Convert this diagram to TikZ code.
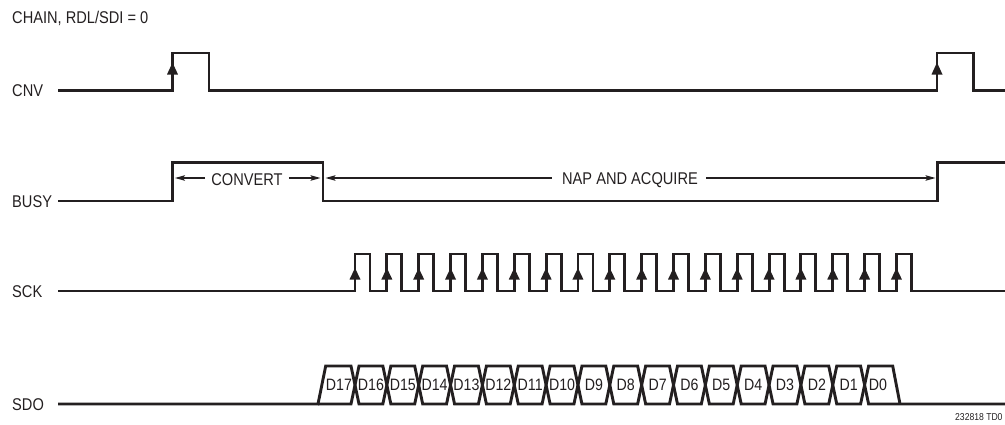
\documentclass[tikz,border=0pt]{standalone}
\usepackage{fontspec}
\setmainfont{Liberation Sans}[FakeStretch=0.86]
\usetikzlibrary{arrows.meta}
\definecolor{ink}{HTML}{231F20}
\begin{document}
\begin{tikzpicture}[x=1pt,y=-1pt,
  sig/.style={line width=2.9pt, draw=ink, line join=miter},
  lbl/.style={font=\fontsize{17}{19}\selectfont, text=ink, inner sep=0pt},
  dat/.style={font=\fontsize{16.5}{18}\selectfont, text=ink, inner sep=0pt, anchor=base},
  dimline/.style={line width=1.1pt, draw=ink, -{Stealth[length=10pt,width=5.5pt,inset=2pt]}},
  tiny/.style={font=\fontsize{10}{12}\selectfont, text=ink, inner sep=0pt}]
\useasboundingbox (0,0) rectangle (1005,424);

% title and signal names
\node[lbl, anchor=west] (title) at (12,18) {CHAIN, RDL/SDI = 0};
\node[lbl, anchor=west] (cnv) at (12,90.5) {CNV};
\node[lbl, anchor=west] (busy) at (12,201.5) {BUSY};
\node[lbl, anchor=west] (sck) at (12,291.5) {SCK};
\node[lbl, anchor=west] (sdo) at (12,405) {SDO};
\node[tiny, anchor=west] (fig) at (955,417) {232818 TD0};

% CNV
\draw[sig] (58,90.5) -- (172.5,90.5) -- (172.5,53) -- (209,53) -- (209,90.5)
  -- (937,90.5) -- (937,53) -- (973.5,53) -- (973.5,90.5) -- (1005,90.5);
\fill[ink] (167,74.5) -- (178,74.5) -- (172.5,62.5) -- cycle;
\fill[ink] (931.5,74.5) -- (942.5,74.5) -- (937,62.5) -- cycle;

% BUSY
\draw[sig] (58,201) -- (172.7,201) -- (172.7,162.3) -- (323,162.3) -- (323,201)
  -- (937.7,201) -- (937.7,162.3) -- (1005,162.3);
\node[lbl] (conv) at (247,180) {CONVERT};
\node[lbl] (nap) at (630,180) {NAP AND ACQUIRE};
\coordinate (cl) at (175,178);
\coordinate (cr) at (320.5,178);
\coordinate (nl) at (325.5,178);
\coordinate (nr) at (935.5,178);
\draw[dimline] ([xshift=-6pt]cl -| conv.west) -- (cl);
\draw[dimline] ([xshift=6pt]cr -| conv.east) -- (cr);
\draw[dimline] ([xshift=-10pt]nl -| nap.west) -- (nl);
\draw[dimline] ([xshift=8pt]nr -| nap.east) -- (nr);

% SCK
\draw[sig] (58,291) \foreach \i in {0,...,17}{
    -- ({355+\i*31.85},291) -- ({355+\i*31.85},254)
    -- ({370+\i*31.85},254) -- ({370+\i*31.85},291) } -- (1005,291);
\foreach \i in {0,...,17}{
  \fill[ink] ({349.5+\i*31.85},279.5) -- ({360.5+\i*31.85},279.5) -- ({355+\i*31.85},268) -- cycle;
}

% SDO
\draw[sig] (58,404) -- (318,404) -- (325.7,366)
  \foreach \k in {0,2,...,14}{
    -- ({355+\k*31.85-4},366) -- ({355+\k*31.85+4},404)
    -- ({355+(\k+1)*31.85-4},404) -- ({355+(\k+1)*31.85+4},366) }
  -- ({355+16*31.85-4},366) -- ({355+16*31.85+4},404) -- (900,404) -- (1005,404);
\draw[sig] (318,404)
  \foreach \k in {0,2,...,14}{
    -- ({355+\k*31.85-4},404) -- ({355+\k*31.85+4},366)
    -- ({355+(\k+1)*31.85-4},366) -- ({355+(\k+1)*31.85+4},404) }
  -- ({355+16*31.85-4},404) -- ({355+16*31.85+4},366) -- (892.7,366) -- (900,404);

\node[dat] (d17) at (339,390.5) {D17};
\foreach \k/\n in {1/16,2/15,3/14,4/13,5/12,6/11,7/10,8/9,9/8,10/7,11/6,12/5,13/4,14/3,15/2,16/1}{
  \node[dat] (d\n) at ({355+(\k-0.5)*31.85},390.5) {D\n};
}
\node[dat] (d0) at (878,390.5) {D0};
\end{tikzpicture}
\end{document}
